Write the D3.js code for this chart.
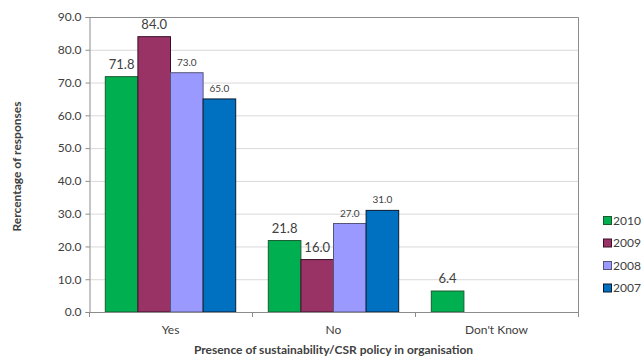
<!DOCTYPE html>
<html><head><meta charset="utf-8">
<script src="https://cdn.jsdelivr.net/npm/d3@7"></script>
<style>
body{margin:0;background:#fff;}
svg text{font-family:Lato,"Open Sans",sans-serif;fill:#404040;}
</style></head>
<body><svg id="chart" width="641" height="358"></svg>
<script>
// Survey responses by year
const categories = ["Yes", "No", "Don't Know"];
const years = ["2010", "2009", "2008", "2007"];
const values2010 = [71.8, 21.8, 6.4];
const values2009 = [84.0, 16.0, null];
const values2008 = [73.0, 27.0, null];
const values2007 = [65.0, 31.0, null];
const yTicks = [0, 10, 20, 30, 40, 50, 60, 70, 80, 90];
const colors = ["#00B050", "#993366", "#9999FF", "#0070C0"];
const strokes = ["#1a5a30", "#3a1028", "#55557a", "#0a1a30"];
const labelSizes = [13, 13, 10, 10];

const series = [values2010, values2009, values2008, values2007];

const svg = d3.select("#chart");
const m = {left: 89, top: 17, right: 578, bottom: 312};

const x = d3.scaleBand().domain(categories).range([m.left, m.right]);
const xi = d3.scaleBand().domain(years).range([0, x.bandwidth()]).paddingOuter(0.5).paddingInner(0);
const y = d3.scaleLinear().domain([0, 90]).range([m.bottom, m.top]);

// gridlines
svg.append("g").selectAll("line").data(yTicks.slice(1)).join("line")
  .attr("x1", m.left).attr("x2", m.right)
  .attr("y1", d => y(d) + 0.5).attr("y2", d => y(d) + 0.5)
  .attr("stroke", "#d9d9d9").attr("stroke-width", 1);

// plot frame (top and right)
svg.append("path")
  .attr("d", `M${m.left},${m.top + 0.5}H${m.right + 0.5}V${m.bottom}`)
  .attr("fill", "none").attr("stroke", "#8c8c8c");

// y axis
const yAxis = svg.append("g").attr("transform", `translate(${m.left + 0.5},0)`)
  .call(d3.axisLeft(y).tickValues(yTicks).tickFormat(d3.format(".1f")).tickSize(4).tickPadding(4));
yAxis.select(".domain").attr("stroke", "#8c8c8c");
yAxis.selectAll(".tick line").attr("stroke", "#8c8c8c");
yAxis.selectAll(".tick text").attr("font-size", 12).attr("fill", "#404040").style("font-family", "Lato");

// bars
series.forEach((vals, si) => {
  const g = svg.append("g");
  g.selectAll("rect").data(categories.map((c, i) => ({c, v: vals[i]})).filter(d => d.v != null)).join("rect")
    .attr("x", d => x(d.c) + xi(years[si]))
    .attr("y", d => y(d.v))
    .attr("width", xi.bandwidth())
    .attr("height", d => y(0) - y(d.v))
    .attr("fill", colors[si])
    .attr("stroke", strokes[si]).attr("stroke-width", 1);
  g.selectAll("text").data(categories.map((c, i) => ({c, v: vals[i]})).filter(d => d.v != null)).join("text")
    .attr("x", d => x(d.c) + xi(years[si]) + xi.bandwidth() / 2)
    .attr("y", d => y(d.v) - (labelSizes[si] > 11 ? 8 : 7))
    .attr("text-anchor", "middle")
    .attr("font-size", labelSizes[si])
    .text(d => d3.format(".1f")(d.v));
});

// x axis
svg.append("line").attr("x1", m.left).attr("x2", m.right + 1)
  .attr("y1", m.bottom + 0.5).attr("y2", m.bottom + 0.5).attr("stroke", "#8c8c8c");
const bounds = [m.left, ...categories.map(c => x(c) + x.bandwidth())];
svg.append("g").selectAll("line").data(bounds).join("line")
  .attr("x1", d => Math.round(d) + 0.5).attr("x2", d => Math.round(d) + 0.5)
  .attr("y1", m.bottom).attr("y2", m.bottom + 5).attr("stroke", "#8c8c8c");
svg.append("g").selectAll("text").data(categories).join("text")
  .attr("x", d => x(d) + x.bandwidth() / 2).attr("y", 334)
  .attr("text-anchor", "middle").attr("font-size", 12).text(d => d);

// axis titles
svg.append("text").attr("x", (m.left + m.right) / 2).attr("y", 354)
  .attr("text-anchor", "middle").attr("font-size", 12).attr("font-weight", "bold")
  .attr("fill", "#262626").text("Presence of sustainability/CSR policy in organisation");
svg.append("text").attr("transform", `translate(21,${(m.top + m.bottom) / 2 + 2}) rotate(-90)`)
  .attr("text-anchor", "middle").attr("font-size", 12).attr("font-weight", "bold")
  .attr("fill", "#262626").text("Rercentage of responses");

// legend
const lg = svg.append("g").attr("transform", "translate(603,216)");
years.forEach((yr, i) => {
  const row = lg.append("g").attr("transform", `translate(0,${i * 22.5})`);
  row.append("rect").attr("x", 0.5).attr("y", 0.5).attr("width", 8).attr("height", 8)
    .attr("fill", colors[i]).attr("stroke", strokes[i]);
  row.append("text").attr("x", 10).attr("y", 8.5).attr("font-size", 12).text(yr);
});
</script></body></html>
